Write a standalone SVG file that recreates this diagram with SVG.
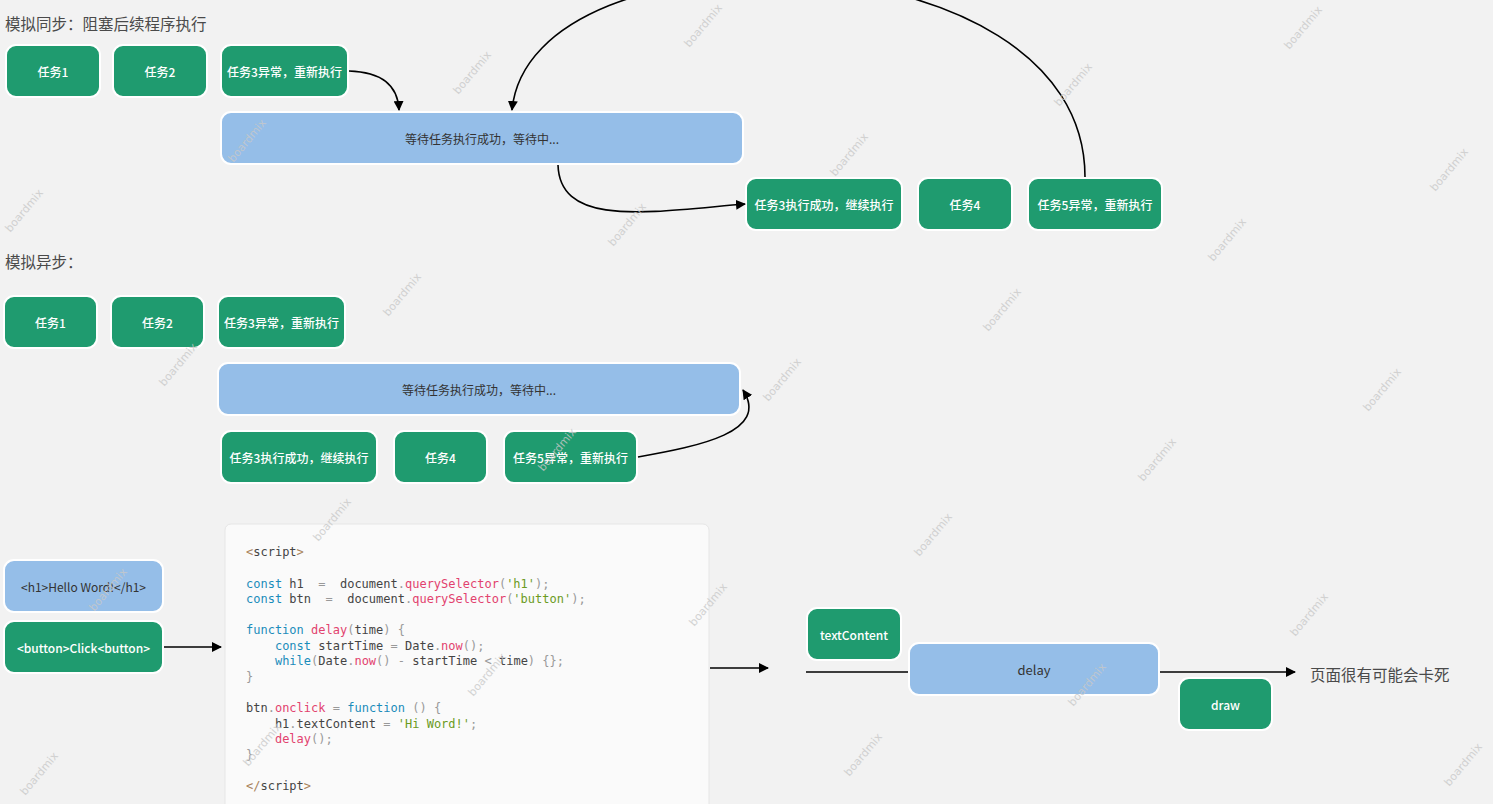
<svg xmlns="http://www.w3.org/2000/svg" width="1493" height="804" viewBox="0 0 1493 804">
<defs>
<marker id="arr" viewBox="0 0 10 10" refX="9" refY="5" markerWidth="10" markerHeight="10" markerUnits="userSpaceOnUse" orient="auto">
<path d="M0,0 L10,5 L0,10 z" fill="#000"/>
</marker>
<style>
.bg{fill:#f2f2f2}
.g{fill:#1f9b6f;stroke:#fff;stroke-width:2}
.b{fill:#95bee8;stroke:#fff;stroke-width:2}
.gt{fill:#fff;font-family:"Noto Sans CJK SC","Noto Sans",sans-serif;font-size:12px;font-weight:500;text-anchor:middle;dominant-baseline:central}
.bt{fill:#333;font-family:"Noto Sans CJK SC","Noto Sans",sans-serif;font-size:12px;text-anchor:middle;dominant-baseline:central}
.title{fill:#4a4a4a;font-family:"Noto Sans CJK SC","Noto Sans",sans-serif;font-size:15.5px}
.c{fill:none;stroke:#000;stroke-width:1.6}
.code{font-family:"DejaVu Sans Mono","Liberation Mono",monospace;font-size:12px;fill:#444;white-space:pre}
.k{fill:#1a8cba}
.f{fill:#e2426e}
.s{fill:#6b9b1e}
.p{fill:#999}
.t{fill:#a8825a}
.wm{fill:#c9c9c9;font-family:"DejaVu Sans","Liberation Sans",sans-serif;font-size:11px;text-anchor:middle;opacity:0.8}
</style>
</defs>
<rect class="bg" x="0" y="0" width="1493" height="804"/>

<text class="title" x="5" y="30">模拟同步：阻塞后续程序执行</text>
<text class="title" x="5" y="268">模拟异步：</text>

<g id="s1-task1"><rect class="g" x="6" y="45" width="94" height="52" rx="10"/><text class="gt" x="53" y="71">任务1</text></g>
<g id="s1-task2"><rect class="g" x="113" y="45" width="94" height="52" rx="10"/><text class="gt" x="160" y="71">任务2</text></g>
<g id="s1-task3"><rect class="g" x="221" y="45" width="127" height="52" rx="10"/><text class="gt" x="284.5" y="71">任务3异常，重新执行</text></g>
<g id="s1-wait"><rect class="b" x="221" y="112" width="522" height="52" rx="10"/><text class="bt" x="482" y="138">等待任务执行成功，等待中...</text></g>
<g id="s1-task3ok"><rect class="g" x="746" y="178" width="156" height="52" rx="10"/><text class="gt" x="824" y="204">任务3执行成功，继续执行</text></g>
<g id="s1-task4"><rect class="g" x="918" y="178" width="94" height="52" rx="10"/><text class="gt" x="965" y="204">任务4</text></g>
<g id="s1-task5"><rect class="g" x="1028" y="178" width="134" height="52" rx="10"/><text class="gt" x="1095" y="204">任务5异常，重新执行</text></g>

<g id="s2-task1"><rect class="g" x="4" y="296" width="93" height="52" rx="10"/><text class="gt" x="50.5" y="322">任务1</text></g>
<g id="s2-task2"><rect class="g" x="111" y="296" width="93" height="52" rx="10"/><text class="gt" x="157.5" y="322">任务2</text></g>
<g id="s2-task3"><rect class="g" x="218" y="296" width="127" height="52" rx="10"/><text class="gt" x="281.5" y="322">任务3异常，重新执行</text></g>
<g id="s2-wait"><rect class="b" x="218" y="363" width="522" height="52" rx="10"/><text class="bt" x="479" y="389">等待任务执行成功，等待中...</text></g>
<g id="s2-task3ok"><rect class="g" x="221" y="431" width="156" height="52" rx="10"/><text class="gt" x="299" y="457">任务3执行成功，继续执行</text></g>
<g id="s2-task4"><rect class="g" x="394" y="431" width="93" height="52" rx="10"/><text class="gt" x="440.5" y="457">任务4</text></g>
<g id="s2-task5"><rect class="g" x="504" y="431" width="133" height="52" rx="10"/><text class="gt" x="570.5" y="457">任务5异常，重新执行</text></g>

<g id="h1-node"><rect class="b" x="4" y="560" width="159" height="52" rx="10"/><text class="bt" x="83.5" y="586">&lt;h1&gt;Hello Word!&lt;/h1&gt;</text></g>
<g id="button-node"><rect class="g" x="4" y="621" width="159" height="52" rx="10"/><text class="gt" x="83.5" y="647">&lt;button&gt;Click&lt;button&gt;</text></g>

<g id="code-block">
<rect x="225" y="524" width="484" height="300" rx="6" fill="#fafafa" stroke="#e6e6e6" stroke-width="1"/>
<text class="code" xml:space="preserve">
<tspan x="246" y="556"><tspan class="t">&lt;</tspan>script<tspan class="t">&gt;</tspan></tspan>
<tspan x="246" y="588"><tspan class="k">const</tspan> h1  <tspan class="p">=</tspan>  document<tspan class="p">.</tspan><tspan class="f">querySelector</tspan><tspan class="p">(</tspan><tspan class="s">'h1'</tspan><tspan class="p">);</tspan></tspan>
<tspan x="246" y="603"><tspan class="k">const</tspan> btn  <tspan class="p">=</tspan>  document<tspan class="p">.</tspan><tspan class="f">querySelector</tspan><tspan class="p">(</tspan><tspan class="s">'button'</tspan><tspan class="p">);</tspan></tspan>
<tspan x="246" y="634"><tspan class="k">function</tspan> <tspan class="f">delay</tspan><tspan class="p">(</tspan>time<tspan class="p">)</tspan> <tspan class="p">{</tspan></tspan>
<tspan x="246" y="650">    <tspan class="k">const</tspan> startTime <tspan class="p">=</tspan> Date<tspan class="p">.</tspan><tspan class="f">now</tspan><tspan class="p">();</tspan></tspan>
<tspan x="246" y="665">    <tspan class="k">while</tspan><tspan class="p">(</tspan>Date<tspan class="p">.</tspan><tspan class="f">now</tspan><tspan class="p">()</tspan> <tspan class="p">-</tspan> startTime <tspan class="p">&lt;</tspan> time<tspan class="p">)</tspan> <tspan class="p">{};</tspan></tspan>
<tspan x="246" y="681"><tspan class="p">}</tspan></tspan>
<tspan x="246" y="712">btn<tspan class="p">.</tspan><tspan class="f">onclick</tspan> <tspan class="p">=</tspan> <tspan class="k">function</tspan> <tspan class="p">()</tspan> <tspan class="p">{</tspan></tspan>
<tspan x="246" y="728">    h1<tspan class="p">.</tspan>textContent <tspan class="p">=</tspan> <tspan class="s">'Hi Word!'</tspan><tspan class="p">;</tspan></tspan>
<tspan x="246" y="743">    <tspan class="f">delay</tspan><tspan class="p">();</tspan></tspan>
<tspan x="246" y="759"><tspan class="p">}</tspan></tspan>
<tspan x="246" y="790"><tspan class="t">&lt;/</tspan>script<tspan class="t">&gt;</tspan></tspan>
</text>
</g>

<g id="textContent-node"><rect class="g" x="807" y="608" width="94" height="52" rx="10"/><text class="gt" x="854" y="634">textContent</text></g>
<g id="delay-node"><rect class="b" x="909" y="643" width="250" height="52" rx="10"/><text class="bt" x="1034" y="669" style="font-size:13px">delay</text></g>
<g id="draw-node"><rect class="g" x="1179" y="678" width="93" height="52" rx="10"/><text class="gt" x="1225.5" y="704">draw</text></g>
<text class="title" x="1310" y="681">页面很有可能会卡死</text>

<g id="connectors">
<path class="c" d="M349,71 C385,72 398,88 399,110" marker-end="url(#arr)"/>
<path class="c" d="M558,165 C560,228 650,212 745,204" marker-end="url(#arr)"/>
<path class="c" d="M1085,177 C1085,-70 530,-80 512,110" marker-end="url(#arr)"/>
<path class="c" d="M638,457 C700,446 770,432 743,390" marker-end="url(#arr)"/>
<path class="c" d="M164,647 L221,647" marker-end="url(#arr)"/>
<path class="c" d="M710,668 L768,668" marker-end="url(#arr)"/>
<path class="c" d="M806,672 L908,672"/>
<path class="c" d="M1160,672 L1295,672" marker-end="url(#arr)"/>
</g>

<g id="watermarks">
<text class="wm" transform="translate(706,28) rotate(-50)">boardmix</text>
<text class="wm" transform="translate(475,75) rotate(-50)">boardmix</text>
<text class="wm" transform="translate(250,143) rotate(-50)">boardmix</text>
<text class="wm" transform="translate(27,213) rotate(-50)">boardmix</text>
<text class="wm" transform="translate(1306,30) rotate(-50)">boardmix</text>
<text class="wm" transform="translate(1076,87) rotate(-50)">boardmix</text>
<text class="wm" transform="translate(852,157) rotate(-50)">boardmix</text>
<text class="wm" transform="translate(630,227) rotate(-50)">boardmix</text>
<text class="wm" transform="translate(405,297) rotate(-50)">boardmix</text>
<text class="wm" transform="translate(181,367) rotate(-50)">boardmix</text>
<text class="wm" transform="translate(1452,172) rotate(-50)">boardmix</text>
<text class="wm" transform="translate(1230,242) rotate(-50)">boardmix</text>
<text class="wm" transform="translate(1005,312) rotate(-50)">boardmix</text>
<text class="wm" transform="translate(785,382) rotate(-50)">boardmix</text>
<text class="wm" transform="translate(560,452) rotate(-50)">boardmix</text>
<text class="wm" transform="translate(335,522) rotate(-50)">boardmix</text>
<text class="wm" transform="translate(111,592) rotate(-50)">boardmix</text>
<text class="wm" transform="translate(1385,392) rotate(-50)">boardmix</text>
<text class="wm" transform="translate(1160,462) rotate(-50)">boardmix</text>
<text class="wm" transform="translate(936,537) rotate(-50)">boardmix</text>
<text class="wm" transform="translate(711,607) rotate(-50)">boardmix</text>
<text class="wm" transform="translate(490,677) rotate(-50)">boardmix</text>
<text class="wm" transform="translate(265,747) rotate(-50)">boardmix</text>
<text class="wm" transform="translate(42,776) rotate(-50)">boardmix</text>
<text class="wm" transform="translate(1312,617) rotate(-50)">boardmix</text>
<text class="wm" transform="translate(1090,687) rotate(-50)">boardmix</text>
<text class="wm" transform="translate(866,757) rotate(-50)">boardmix</text>
<text class="wm" transform="translate(1466,767) rotate(-50)">boardmix</text>
</g>
</svg>
